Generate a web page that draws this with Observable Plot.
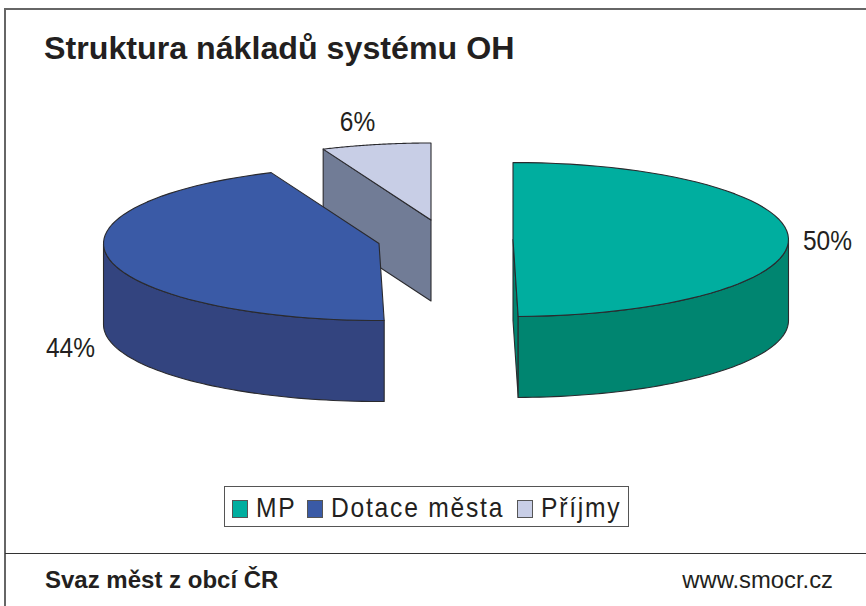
<!DOCTYPE html>
<html>
<head>
<meta charset="utf-8">
<script src="https://cdn.jsdelivr.net/npm/d3@7"></script>
<script src="https://cdn.jsdelivr.net/npm/@observablehq/plot@0.6"></script>
<style>
  html, body { margin: 0; padding: 0; background: #fff; overflow: hidden; }
  #page { position: relative; width: 866px; height: 606px; font-family: "Liberation Sans", Arial, sans-serif; color: #231f20; overflow: hidden; }
  #chart { position: absolute; left: 0; top: 0; }
  #chart svg { display: block; background: transparent; }
  #frame { position: absolute; left: 4px; top: 8px; width: 870px; height: 610px; border: 2px solid #666; box-sizing: border-box; }
  #rule { position: absolute; left: 5px; right: 0; top: 552.5px; height: 1.4px; background: #333; }
  h1 { position: absolute; left: 44px; top: 28px; margin: 0; font-size: 32.2px; line-height: 40px; font-weight: bold; white-space: nowrap; }
  #org { position: absolute; left: 45px; top: 566px; font-size: 24px; line-height: 28px; font-weight: bold; white-space: nowrap; }
  #web { position: absolute; right: 33px; top: 566px; font-size: 23.8px; line-height: 28px; white-space: nowrap; }
  #legend { position: absolute; left: 224px; top: 486px; width: 405px; height: 41px; border: 1px solid #555; box-sizing: border-box; background: #fff; }
  .sw { position: absolute; top: 12.5px; width: 16px; height: 18px; border: 1px solid #555; box-sizing: border-box; }
  .lb { position: absolute; top: 6px; font-size: 28px; line-height: 30px; letter-spacing: 2px; white-space: nowrap; transform: scaleX(0.88); transform-origin: left center; }
</style>
</head>
<body>
<div id="page">
  <div id="chart"></div>
  <div id="frame"></div>
  <div id="rule"></div>
  <h1>Struktura nákladů systému OH</h1>
  <div id="legend"></div>
  <div id="org">Svaz měst z obcí ČR</div>
  <div id="web">www.smocr.cz</div>
</div>
<script>
// Data
const categories = ["MP", "Dotace města", "Příjmy"];
const shares = [49.7, 43.9, 6.4];
const topColors = ["#00ae9f", "#3a5aa6", "#c8cee6"];
const sideColors = ["#008570", "#33447f", "#717c96"];

// Layout of the drawing (not data)
const W = 866, H = 606;
const radiusX = 275.5, radiusY = 77, depth = 81;
const centers = [[512.5, 239], [378.5, 243], [430.5, 219.5]];
const labelPos = [[827, 241], [70, 348], [357, 122]];
const legendSwatchX = [7, 82, 292];
const legendLabelX = [31, 106, 316];

// Pie geometry from the shares, clockwise from the top
const rad = d => d * Math.PI / 180;
let running = 0;
const slices = categories.map((name, i) => {
  const a0 = running / 100 * 360;
  running += shares[i];
  return {name, i, a0, a1: running / 100 * 360, cx: centers[i][0], cy: centers[i][1]};
});
const rim = (s, deg, dz = 0) => [s.cx + radiusX * Math.sin(rad(deg)), s.cy - radiusY * Math.cos(rad(deg)) + dz];
const arc = (s, from, to, dz = 0) => d3.range(0, 61).map(k => rim(s, from + (to - from) * k / 60, dz));

const faces = [];
const addFace = (key, pts) => {
  const closed = [...pts, pts[0]];
  closed.forEach(([x, y]) => faces.push({key, x, y}));
};
const [mp, dot, pri] = slices;
// Příjmy: cut face behind, then the top
addFace("Příjmy side", [rim(pri, pri.a0), [pri.cx, pri.cy], [pri.cx, pri.cy + depth], rim(pri, pri.a0, depth)]);
addFace("Příjmy top", [[pri.cx, pri.cy], ...arc(pri, pri.a0, pri.a1)]);
// Dotace města: outer wall (visible lower half), then the top
addFace("Dotace side", [...arc(dot, dot.a0, 270), ...arc(dot, 270, dot.a0, depth)]);
addFace("Dotace top", [[dot.cx, dot.cy], ...arc(dot, dot.a0, dot.a1)]);
// MP: thin cut face, outer wall, top
addFace("MP cut", [[mp.cx, mp.cy], [mp.cx, mp.cy + depth], rim(mp, mp.a1, depth), rim(mp, mp.a1)]);
addFace("MP side", [...arc(mp, 90, mp.a1), ...arc(mp, mp.a1, 90, depth)]);
addFace("MP top", [[mp.cx, mp.cy], ...arc(mp, mp.a0, mp.a1)]);

const labels = slices.map((s, i) => ({text: `${Math.round(shares[i])}%`, x: labelPos[i][0], y: labelPos[i][1]}));

const faceKeys = ["Příjmy side", "Příjmy top", "Dotace side", "Dotace top", "MP cut", "MP side", "MP top"];
const faceColors = [sideColors[2], topColors[2], sideColors[1], topColors[1], sideColors[0], sideColors[0], topColors[0]];

const chart = Plot.plot({
  width: W, height: H,
  margin: 0,
  x: {domain: [0, W], range: [0, W], axis: null},
  y: {domain: [0, H], range: [0, H], axis: null},
  color: {type: "ordinal", domain: faceKeys, range: faceColors},
  style: {background: "transparent"},
  marks: [
    Plot.line(faces, {x: "x", y: "y", z: "key", fill: "key", stroke: "#2a2a2e", strokeWidth: 1.1, strokeLinejoin: "round"}),
    Plot.text(labels, {x: "x", y: "y", text: "text", fontSize: 28, fill: "#231f20", fontFamily: "Liberation Sans, Arial, sans-serif"})
  ]
});
// The reference's labels are slightly condensed
chart.querySelectorAll("text").forEach(t => {
  t.setAttribute("transform", `${t.getAttribute("transform") || ""} scale(0.875,1)`);
});
document.getElementById("chart").append(chart);

// Legend from the same arrays
const legend = document.getElementById("legend");
categories.forEach((name, i) => {
  const sw = document.createElement("span");
  sw.className = "sw";
  sw.style.left = legendSwatchX[i] + "px";
  sw.style.background = topColors[i];
  const lb = document.createElement("span");
  lb.className = "lb";
  lb.style.left = legendLabelX[i] + "px";
  lb.textContent = name;
  legend.append(sw, lb);
});
</script>
</body>
</html>
